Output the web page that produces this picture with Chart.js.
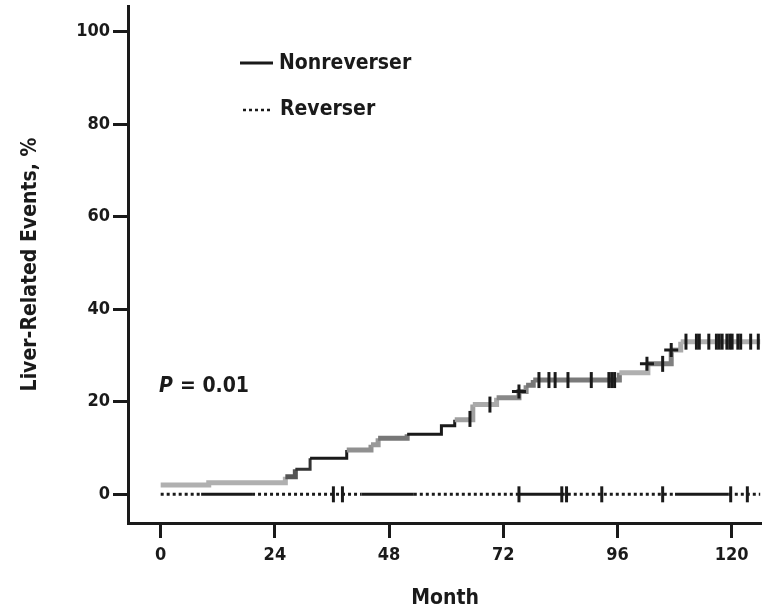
<!DOCTYPE html>
<html>
<head>
<meta charset="utf-8">
<script src="https://cdn.jsdelivr.net/npm/chart.js@4.4.1/dist/chart.umd.min.js"></script>
<style>
  html, body { margin: 0; padding: 0; background: #fff; }
  #wrap { width: 762px; height: 611px; }
</style>
</head>
<body>
<div id="wrap"><canvas id="km-chart"></canvas></div>
<script>
const xTicks = [0, 24, 48, 72, 96, 120];
const yTicks = [0, 20, 40, 60, 80, 100];

// Nonreverser: month where each step starts, cumulative liver-related events (%)
const nonrevMonths = [0, 10.1, 26.2, 28.3, 31.4, 39.1, 44.2, 45.7, 51.8, 59.0, 61.8, 65.6, 70.6, 75.3, 76.8, 78.3, 96.4, 102.4, 107.3, 109.3, 126];
const nonrevValues = [2.0, 2.5, 3.8, 5.4, 7.8, 9.6, 10.7, 12.1, 13.0, 14.8, 16.1, 19.4, 20.9, 22.2, 23.6, 24.7, 26.3, 28.2, 31.2, 33.0, 33.0];

// Nonreverser censored patients
const nonrevCensorMonths = [65.0, 69.2, 79.5, 81.6, 82.9, 85.6, 90.5, 94.2, 94.8, 95.4, 105.5,
    110.4, 112.6, 113.2, 115.2, 116.8, 117.4, 118.0, 119.0, 119.6, 120.1, 121.3, 121.9, 124.0, 125.6];
const nonrevCensorValues = [16.3, 19.4, 24.7, 24.7, 24.7, 24.7, 24.7, 24.7, 24.7, 24.7, 28.2,
    33.0, 33.0, 33.0, 33.0, 33.0, 33.0, 33.0, 33.0, 33.0, 33.0, 33.0, 33.0, 33.0, 33.0];
const nonrevCrossMonths = [75.3, 102.2, 107.3];
const nonrevCrossValues = [22.2, 28.2, 31.2];

// Reverser: no events, line stays at 0
const revMonths = [0, 8.5, 19.2, 42.2, 53.2, 75.3, 84.3, 108.1, 119.4, 126];
const revValues = [0, 0, 0, 0, 0, 0, 0, 0, 0, 0];
const revCensorMonths = [36.3, 38.2, 75.3, 84.3, 85.3, 92.7, 105.5, 119.8, 123.3];
const revCensorValues = [0, 0, 0, 0, 0, 0, 0, 0, 0];

// styling per segment (scan look of the printed figure)
const nonrevSegColors = ['#b0b0b0', '#b0b0b0', '#555', '#333', '#1a1a1a', '#909090', '#999', '#777',
    '#1a1a1a', '#1a1a1a', '#a0a0a0', '#aaa', '#888', '#888', '#777', '#7a7a7a', '#b0b0b0', '#808080', '#aaa', '#b0b0b0'];
const revSolid = [false, true, false, true, false, true, false, true, false];

const FONT = "'DejaVu Sans Condensed', 'DejaVu Sans', sans-serif";
const INK = '#1a1a1a';

const toPoints = (xs, ys) => xs.map((x, i) => ({ x: x, y: ys[i] }));
const isDark = c => c === '#1a1a1a' || c === '#333';

const overlay = {
    id: 'overlay',
    afterDatasetsDraw(chart) {
        const ctx = chart.ctx;
        ctx.save();
        ctx.fillStyle = INK;
        ctx.strokeStyle = INK;
        ctx.textBaseline = 'middle';
        ctx.font = 'bold 21px ' + FONT;

        // legend
        ctx.lineWidth = 3;
        ctx.beginPath();
        ctx.moveTo(240, 63);
        ctx.lineTo(273, 63);
        ctx.stroke();
        ctx.fillText('Nonreverser', 279, 64);

        ctx.setLineDash([3, 3]);
        ctx.lineWidth = 2.5;
        ctx.beginPath();
        ctx.moveTo(243, 110);
        ctx.lineTo(270, 110);
        ctx.stroke();
        ctx.setLineDash([]);
        ctx.fillText('Reverser', 280, 110);

        // P value
        ctx.font = 'italic bold 21px ' + FONT;
        ctx.fillText('P', 159, 387);
        ctx.font = 'bold 21px ' + FONT;
        ctx.fillText('= 0.01', 180, 387);
        ctx.restore();
    }
};

new Chart(document.getElementById('km-chart').getContext('2d'), {
    type: 'line',
    data: {
        datasets: [
            {
                label: 'Nonreverser censored',
                data: toPoints(nonrevCensorMonths, nonrevCensorValues),
                showLine: false,
                pointStyle: 'line',
                rotation: 90,
                pointRadius: 8,
                pointBorderWidth: 3,
                borderColor: INK,
            },
            {
                label: 'Nonreverser censored +',
                data: toPoints(nonrevCrossMonths, nonrevCrossValues),
                showLine: false,
                pointStyle: 'cross',
                pointRadius: 7,
                pointBorderWidth: 3,
                borderColor: INK,
            },
            {
                label: 'Reverser censored',
                data: toPoints(revCensorMonths, revCensorValues),
                showLine: false,
                pointStyle: 'line',
                rotation: 90,
                pointRadius: 8,
                pointBorderWidth: 3,
                borderColor: INK,
            },
            {
                label: 'Nonreverser',
                data: toPoints(nonrevMonths, nonrevValues),
                stepped: true,
                pointRadius: 0,
                borderColor: '#b0b0b0',
                borderWidth: 5,
                segment: {
                    borderColor: c => nonrevSegColors[c.p0DataIndex] || '#b0b0b0',
                    borderWidth: c => isDark(nonrevSegColors[c.p0DataIndex]) ? 3 : 5,
                },
            },
            {
                label: 'Reverser',
                data: toPoints(revMonths, revValues),
                pointRadius: 0,
                borderColor: INK,
                borderWidth: 3,
                borderCapStyle: 'butt',
                segment: {
                    borderDash: c => revSolid[c.p0DataIndex] ? [] : [3, 3],
                },
            },
        ],
    },
    options: {
        responsive: true,
        maintainAspectRatio: false,
        animation: false,
        layout: { autoPadding: false, padding: { top: 6, right: 0, left: 0, bottom: 0 } },
        plugins: { legend: { display: false }, tooltip: { enabled: false } },
        scales: {
            x: {
                type: 'linear',
                min: -6.87,
                max: 126.38,
                afterBuildTicks: s => { s.ticks = xTicks.map(v => ({ value: v })); },
                afterFit: s => { s.height = 88; s.paddingLeft = 0; s.paddingRight = 0; },
                border: { color: INK, width: 3 },
                grid: { drawOnChartArea: false, tickLength: 15, tickWidth: 3, tickColor: INK },
                ticks: { color: INK, padding: 7, font: { family: FONT, size: 18, weight: 'bold' } },
                title: {
                    display: true,
                    text: 'Month',
                    color: INK,
                    padding: { top: 0, bottom: 0 },
                    font: { family: FONT, size: 21, weight: 'bold' },
                },
            },
            y: {
                type: 'linear',
                min: -6.2,
                max: 105.56,
                afterBuildTicks: s => { s.ticks = yTicks.map(v => ({ value: v })); },
                afterFit: s => { s.width = 128; s.paddingTop = 0; s.paddingBottom = 0; },
                border: { color: INK, width: 3 },
                grid: { drawOnChartArea: false, tickLength: 15, tickWidth: 3, tickColor: INK },
                ticks: { color: INK, padding: 3, font: { family: FONT, size: 18, weight: 'bold' } },
                title: {
                    display: true,
                    text: 'Liver-Related Events, %',
                    color: INK,
                    padding: { top: 18, bottom: 0 },
                    font: { family: FONT, size: 21, weight: 'bold' },
                },
            },
        },
    },
    plugins: [overlay],
});
</script>
</body>
</html>
